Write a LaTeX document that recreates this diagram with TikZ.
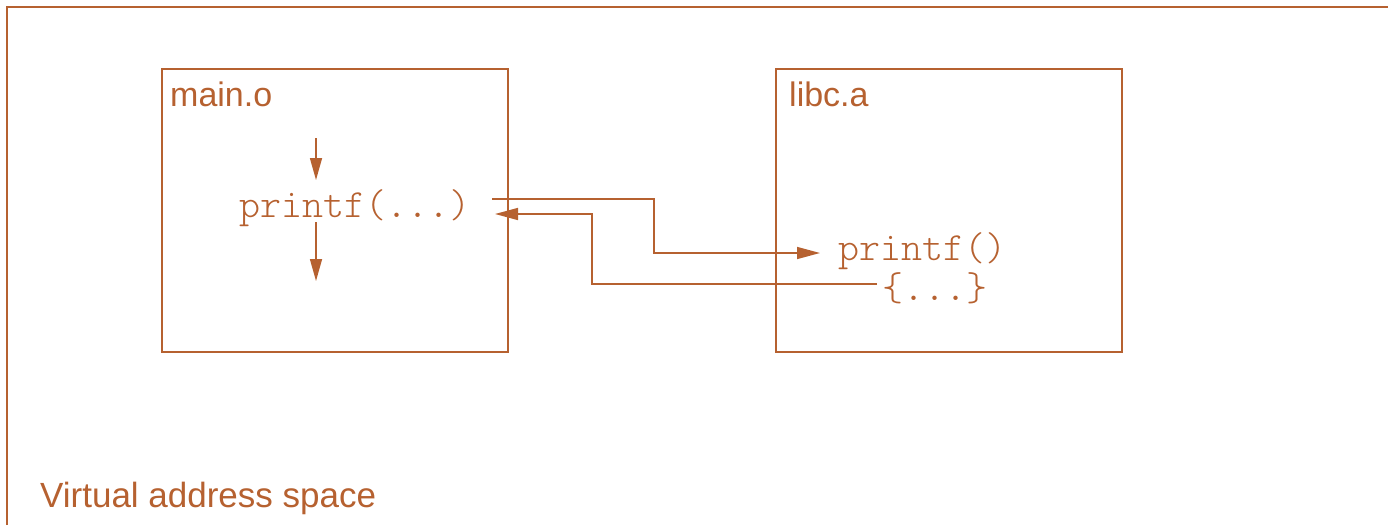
\documentclass[tikz,border=0pt]{standalone}
\usepackage{fontspec}
\setmainfont{Liberation Sans}
\setmonofont{Latin Modern Mono Light}
\usetikzlibrary{arrows.meta}
\definecolor{rust}{RGB}{182,97,48}
\tikzset{
  every picture/.style={x=1pt,y=-1pt},
  edge line/.style={draw=rust,line width=1.5pt},
  module/.style={edge line,rectangle,inner sep=0pt,minimum width=346pt,minimum height=283pt},
  title/.style={text=rust,inner sep=0pt,anchor=base west,font=\fontsize{34}{40}\selectfont},
  code/.style={text=rust,inner sep=0pt,anchor=base west,font=\ttfamily\fontsize{40}{48}\selectfont},
  conn/.style={draw=rust,line width=1.5pt,-{Triangle[length=23pt,width=12pt]}},
  flow/.style={draw=rust,line width=1.5pt,-{Triangle[length=22pt,width=12pt]}},
}
\begin{document}
\begin{tikzpicture}
\useasboundingbox (0,0) rectangle (1388,525);
% address space frame, running off the page
\draw[edge line] (7,525) -- (7,7) -- (1388,7);
\node[title,font=\fontsize{35}{42}\selectfont] (vas) at (40,507) {Virtual address space};

% object modules
\node[module] (main) at (335,210.5) {};
\node[module] (libc) at (949,210.5) {};
\node[title] (mainlbl) at (170,106) {main.o};
\node[title] (libclbl) at (789,106) {libc.a};

% call site and library routine
\node[code] (call) at (239,217) {printf(...)};
\node[code] (impl) at (838,260) {printf()};
\node[code] (body) at (882,300) {\{...\}};

% control flow through the caller
\coordinate (inflow) at ([shift={(77,-79)}]call.base west);
\coordinate (outflow) at ([shift={(77,64)}]call.base west);
\draw[flow] (inflow) -- ([shift={(77,-37)}]call.base west);
\draw[flow] ([shift={(77,5)}]call.base west) -- (outflow);

% call into the library and return
\draw[conn] ([shift={(253,-18)}]call.base west) -- ++(162,0)
  |- ([shift={(-18,-7)}]impl.base west);
\draw[conn] ([shift={(-5,-16)}]body.base west) -- ++(-285,0)
  |- ([shift={(256,-3)}]call.base west);
\end{tikzpicture}
\end{document}
